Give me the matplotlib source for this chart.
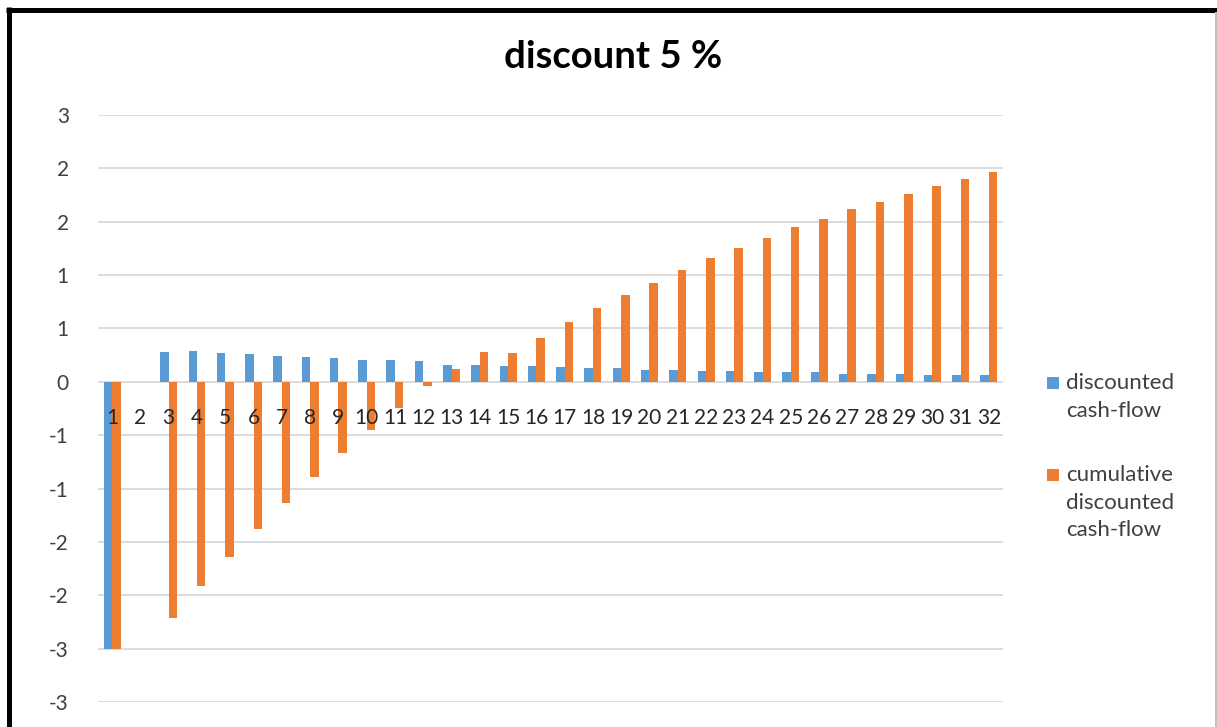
import math
import matplotlib
matplotlib.use("Agg")
import matplotlib.pyplot as plt
from matplotlib.lines import Line2D
from matplotlib.patches import Rectangle
from matplotlib.ticker import FuncFormatter, MultipleLocator

plt.rcParams['font.family'] = ['Lato', 'DejaVu Sans']

periods = list(range(1, 33))
discounted_cf = [-2.50, 0.00, 0.28, 0.29, 0.27, 0.26, 0.245, 0.232, 0.22, 0.207,
                 0.207, 0.195, 0.16, 0.16, 0.148, 0.148, 0.136, 0.125, 0.125, 0.111,
                 0.111, 0.098, 0.098, 0.089, 0.089, 0.089, 0.076, 0.076, 0.076, 0.064,
                 0.064, 0.064]
cumulative_cf = [-2.50, 0.00, -2.21, -1.915, -1.645, -1.38, -1.136, -0.895, -0.667, -0.452,
                 -0.249, -0.042, 0.123, 0.279, 0.267, 0.413, 0.558, 0.689, 0.811, 0.929,
                 1.048, 1.157, 1.254, 1.351, 1.448, 1.529, 1.617, 1.688, 1.760, 1.832,
                 1.903, 1.963]
series_names = ["discounted\ncash-flow", "cumulative\ndiscounted\ncash-flow"]
title_text = "discount 5 %"

BLUE = "#5B9BD5"
ORANGE = "#ED7D31"
GRID = "#D9D9D9"
TEXT = "#404040"
FS = 15

W, H = 1217, 727
fig = plt.figure(figsize=(W / 100, H / 100), dpi=100)
fig.patch.set_facecolor("white")

ax = fig.add_axes([98 / W, 1 - 702 / H, (1003 - 98) / W, (702 - 115) / H])
bw = 0.30
ax.bar([p - bw / 2 for p in periods], discounted_cf, width=bw, color=BLUE,
       linewidth=0, zorder=3)
ax.bar([p + bw / 2 for p in periods], cumulative_cf, width=bw, color=ORANGE,
       linewidth=0, zorder=3)

ax.set_xlim(0.5, 32.5)
ax.set_ylim(-3, 2.5)
ax.yaxis.set_major_locator(MultipleLocator(0.5))


def excel_round(v, pos=None):
    r = math.floor(abs(v) + 0.5 + 1e-9)
    r = int(math.copysign(r, v)) if r else 0
    return str(r)


ax.yaxis.set_major_formatter(FuncFormatter(excel_round))
ax.grid(axis="y", color=GRID, linewidth=1.3, zorder=0)
ax.set_axisbelow(True)
for s in ax.spines.values():
    s.set_visible(False)
ax.tick_params(axis="y", length=0, pad=21, labelsize=FS, labelcolor=TEXT)
ax.set_xticks([])

# category labels sit just under the zero line
for p in periods:
    ax.annotate(str(p), xy=(p, 0), xytext=(0, -36), textcoords="offset pixels",
                ha="center", va="center", fontsize=FS, color="#262626", zorder=5)

fig.text(613 / W, 1 - 57 / H, title_text, ha="center", va="center",
         fontsize=27.5, fontweight="bold", color="black")

# legend
legend_items = [(BLUE, series_names[0], 383), (ORANGE, series_names[1], 475)]
for color, label, ytop in legend_items:
    fig.patches.append(Rectangle((1047 / W, 1 - (ytop + 6) / H), 12 / W, 12 / H,
                                 transform=fig.transFigure, facecolor=color,
                                 edgecolor="none"))
    fig.text(1066 / W, 1 - (ytop - 10) / H, label, ha="left", va="top",
             fontsize=16, color=TEXT, linespacing=1.47)

# frame around the chart area
fig.lines.append(Line2D([8.5 / W, 8.5 / W], [0, 1 - 7 / H], transform=fig.transFigure,
                        color="black", linewidth=3.6, solid_capstyle="butt"))
fig.lines.append(Line2D([6 / W, 1], [1 - 9.5 / H, 1 - 9.5 / H], transform=fig.transFigure,
                        color="black", linewidth=3.6, solid_capstyle="butt"))
fig.lines.append(Line2D([1215.5 / W, 1215.5 / W], [0, 1 - 12 / H], transform=fig.transFigure,
                        color="#BFBFBF", linewidth=1.4, solid_capstyle="butt"))

fig.savefig("out.png", dpi=100)
